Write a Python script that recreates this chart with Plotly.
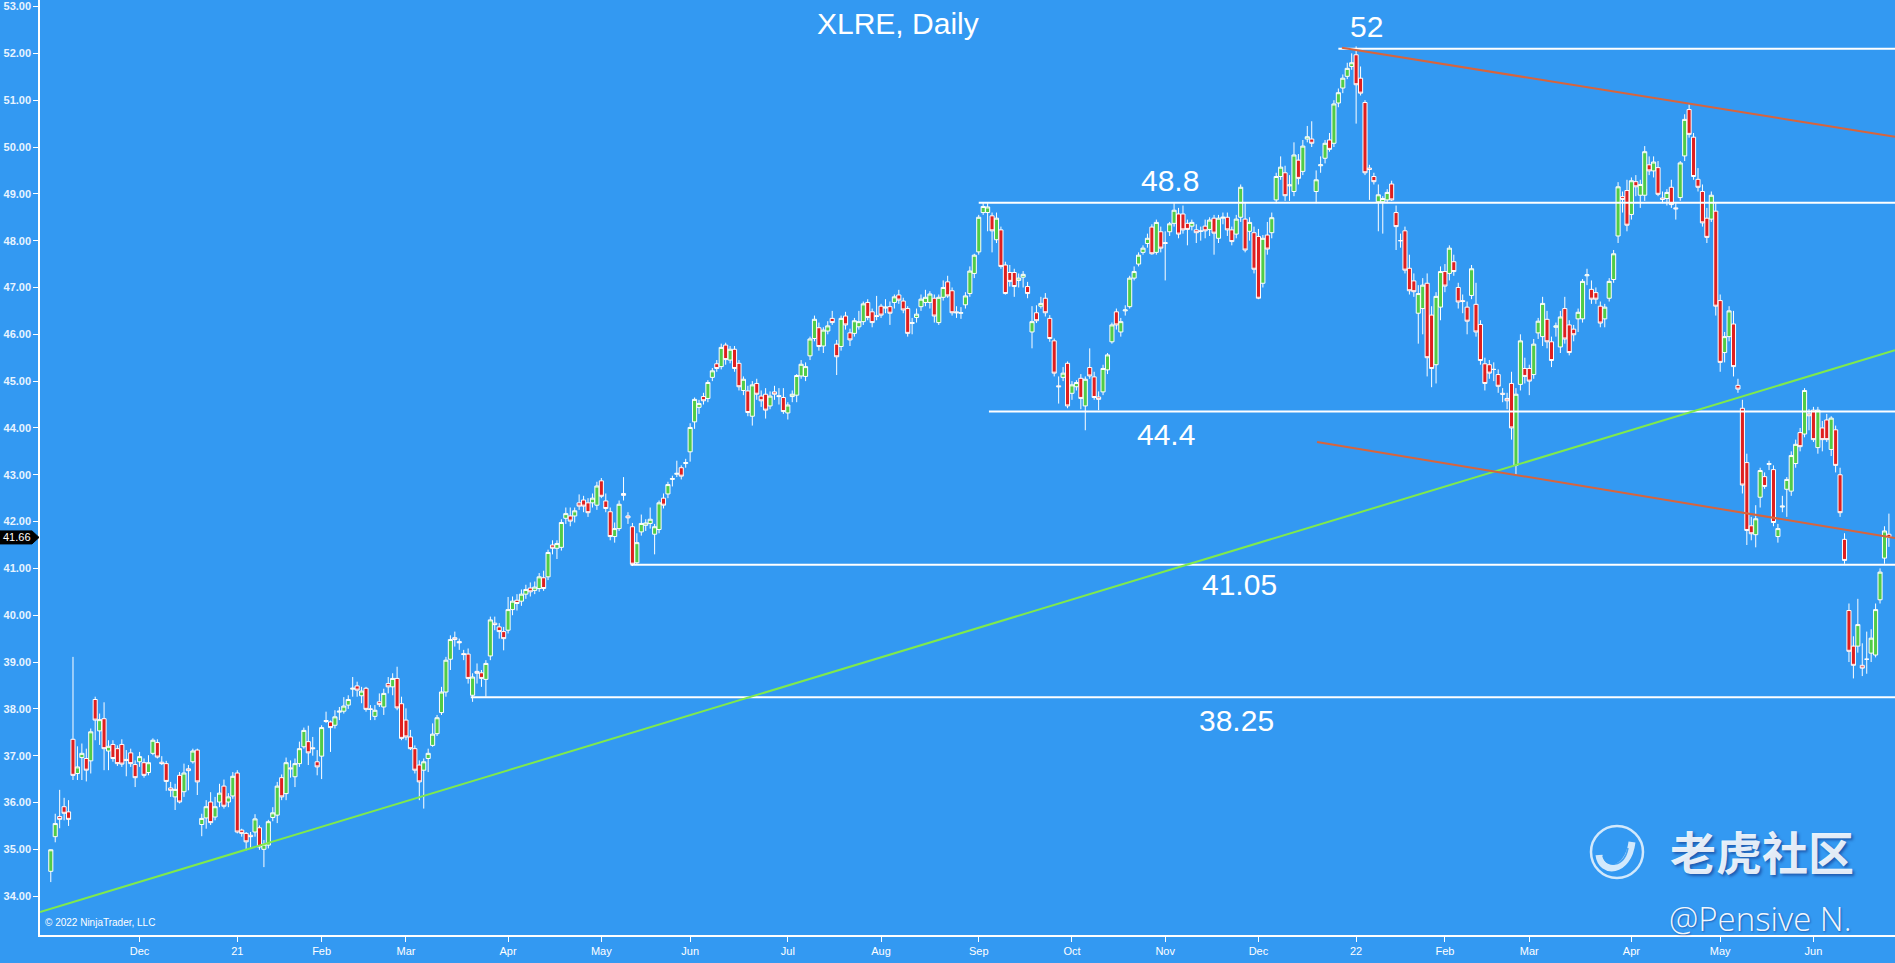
import pandas as pd
import plotly.graph_objects as go

# ---------------- data ----------------
TICKER_TITLE = "XLRE, Daily"
START, END = "2020-11-02", "2022-06-27"
HOLIDAYS = ["2020-11-26", "2020-12-25", "2021-01-01", "2021-01-18", "2021-02-15",
            "2021-04-02", "2021-05-31", "2021-07-05", "2021-09-06", "2021-11-25",
            "2021-12-24", "2022-01-17", "2022-02-21", "2022-04-15", "2022-05-30",
            "2022-06-20"]

opens = [
 34.53,35.27,35.70,35.91,35.80,37.35,36.62,36.96,36.94,36.89,
 38.20,37.53,37.79,37.10,37.24,37.15,37.24,36.92,37.06,36.81,
 36.87,36.85,36.64,37.05,37.28,36.86,36.83,36.31,36.12,36.58,
 36.23,36.72,36.87,37.12,35.53,35.67,36.01,35.69,36.01,36.35,
 36.01,36.14,36.63,35.41,35.34,35.30,35.37,35.46,35.00,35.09,
 35.68,35.73,36.53,36.19,36.74,36.55,36.83,37.19,37.30,37.17,
 36.87,36.99,37.73,37.72,37.65,37.93,37.95,38.08,38.42,38.49,
 38.28,38.44,38.00,37.84,38.15,38.04,38.54,38.47,38.65,38.11,
 37.76,37.40,37.15,36.80,36.69,36.94,37.22,37.47,37.92,38.36,
 39.06,39.52,39.44,39.18,39.17,38.29,38.80,38.77,38.63,39.13,
 39.83,39.75,39.65,39.68,40.12,40.32,40.30,40.45,40.58,40.53,
 40.57,40.80,40.82,41.50,41.43,41.45,42.07,42.12,42.12,42.40,
 42.46,42.40,42.40,42.35,42.87,42.44,42.21,41.68,41.85,42.60,
 42.12,41.89,41.12,41.78,41.92,41.96,41.73,41.83,42.50,42.59,
 42.90,43.01,43.15,43.24,43.49,44.13,44.44,44.67,44.63,45.08,
 45.37,45.31,45.77,45.45,45.68,45.38,44.80,44.79,44.25,44.95,
 44.68,44.72,44.47,44.77,44.69,44.65,44.32,44.67,44.70,45.11,
 45.10,45.54,45.91,46.14,45.75,46.07,46.34,45.79,45.74,46.39,
 46.03,46.02,46.16,46.27,46.68,46.48,46.40,46.60,46.56,46.59,
 46.68,46.84,46.71,46.55,46.23,46.36,46.59,46.68,46.68,46.77,
 46.25,46.79,47.12,46.93,46.48,46.45,46.63,46.87,47.30,47.76,
 48.60,48.60,48.53,48.02,48.23,47.48,47.32,47.32,47.15,47.22,
 47.02,46.05,46.46,46.60,46.77,46.34,45.86,44.90,45.08,45.38,
 44.74,44.88,45.06,44.47,45.29,45.09,44.66,44.77,45.24,45.84,
 46.48,46.05,46.50,46.59,47.20,47.50,47.75,47.94,48.29,47.75,
 48.19,47.96,48.19,48.37,48.57,48.57,48.37,48.31,48.23,48.21,
 48.31,48.24,48.48,48.05,48.48,48.50,48.23,48.14,48.50,48.46,
 48.20,48.17,48.09,47.09,48.12,48.17,48.87,49.37,49.45,49.17,
 49.05,49.72,49.48,50.17,50.17,49.05,49.60,49.76,50.15,50.08,
 50.94,51.26,51.51,51.72,51.97,51.47,50.95,49.55,49.37,48.83,
 48.83,48.87,49.21,48.60,48.00,48.21,47.41,47.14,46.45,46.55,
 47.09,46.41,45.35,46.58,47.34,47.30,47.55,47.00,46.72,46.58,
 46.83,46.64,46.21,45.37,45.35,45.25,45.14,44.74,44.63,44.95,
 43.20,44.93,45.27,45.27,45.14,46.03,45.95,46.32,45.84,46.15,
 45.73,46.55,46.20,46.11,46.33,46.33,47.25,46.96,46.89,46.60,
 46.33,46.77,47.17,48.10,48.94,49.07,48.56,49.26,48.97,48.97,
 49.62,49.49,49.56,48.91,48.90,49.14,48.70,48.92,49.81,50.80,
 50.21,49.31,49.05,48.48,48.46,48.63,46.72,45.61,45.95,46.22,
 44.91,44.42,43.26,41.91,41.72,42.52,42.96,43.22,43.11,41.68,
 42.31,42.69,42.65,43.24,43.90,43.87,44.30,44.38,43.58,44.00,
 44.17,43.54,43.96,43.00,41.62,40.10,39.34,39.34,38.93,39.06,
 39.19,39.15,40.33,41.22,41.73]

highs = [
 35.00,35.76,36.27,36.10,36.05,39.11,37.20,37.26,37.15,37.58,
 38.26,37.90,38.14,37.33,37.33,37.22,37.35,37.12,37.15,36.90,
 37.08,36.94,37.01,37.37,37.35,36.99,36.89,36.44,36.40,36.65,
 36.83,36.80,37.15,37.15,35.76,36.05,36.22,36.12,36.40,36.49,
 36.20,36.65,36.69,35.44,35.37,35.37,35.75,35.51,35.20,35.63,
 35.90,36.44,36.60,36.96,36.90,36.94,37.30,37.60,37.64,37.40,
 37.12,37.65,37.94,37.75,37.97,38.04,38.25,38.29,38.68,38.58,
 38.47,38.47,38.08,38.08,38.33,38.43,38.68,38.76,38.90,38.26,
 38.01,37.55,37.22,36.90,36.94,37.15,37.69,37.87,38.47,39.11,
 39.57,39.65,39.50,39.26,39.29,38.76,38.97,38.83,39.04,39.97,
 39.97,39.83,39.75,40.39,40.40,40.45,40.55,40.65,40.70,40.72,
 40.90,40.95,41.40,41.60,41.60,42.05,42.30,42.30,42.30,42.58,
 42.55,42.50,42.60,42.85,42.93,42.60,42.30,41.98,42.45,42.95,
 42.20,41.97,41.75,42.15,42.05,42.30,41.95,42.45,42.60,42.85,
 42.98,43.30,43.20,43.34,44.10,44.65,44.60,44.75,45.02,45.28,
 45.45,45.80,45.82,45.75,45.75,45.45,45.10,44.90,45.00,45.05,
 44.80,44.85,44.78,44.90,44.85,44.85,44.55,44.80,45.15,45.45,
 45.40,45.95,46.40,46.25,46.15,46.28,46.50,45.88,46.40,46.48,
 46.12,46.35,46.50,46.70,46.75,46.55,46.82,46.65,46.75,46.70,
 46.85,46.95,46.78,46.60,46.35,46.55,46.85,46.95,46.92,46.85,
 46.85,47.15,47.25,47.00,46.60,46.58,46.90,47.45,47.72,48.55,
 48.80,48.80,48.60,48.60,48.30,47.55,47.48,47.40,47.30,47.35,
 47.12,46.60,46.62,46.80,46.88,46.41,45.91,45.10,45.30,45.42,
 45.00,45.02,45.15,45.10,45.70,45.20,44.78,45.35,45.60,46.25,
 46.55,46.35,46.62,47.25,47.45,47.75,47.90,48.15,48.35,48.45,
 48.30,48.20,48.40,48.80,48.70,48.75,48.45,48.45,48.35,48.30,
 48.45,48.50,48.55,48.55,48.60,48.60,48.30,48.55,49.20,48.80,
 48.50,48.30,48.25,48.12,48.40,48.60,49.45,49.80,49.60,49.40,
 50.10,49.85,50.15,50.45,50.55,49.50,49.80,50.15,50.30,51.00,
 51.25,51.55,51.80,52.00,52.15,51.72,51.00,49.62,49.45,49.20,
 48.95,49.10,49.28,48.75,48.15,48.30,47.70,47.30,47.05,47.20,
 47.30,46.60,46.90,47.45,47.50,47.90,47.70,47.10,46.85,46.70,
 47.48,47.10,46.30,45.50,45.45,45.40,45.25,44.85,44.75,45.20,
 44.85,46.00,45.50,45.35,45.90,46.35,46.80,46.50,45.95,46.25,
 46.50,46.80,46.30,46.20,46.55,47.18,47.40,47.15,47.00,46.70,
 46.65,47.20,47.80,49.25,49.05,49.30,49.35,49.40,49.30,50.02,
 49.80,49.80,49.70,49.05,49.10,49.30,48.80,49.70,50.70,50.91,
 50.30,49.55,49.20,48.70,49.05,48.80,46.85,46.05,46.60,46.50,
 45.05,44.60,43.45,42.10,42.35,43.15,43.05,43.30,43.20,41.95,
 42.55,42.95,43.50,43.75,44.00,44.85,44.40,44.45,44.45,44.15,
 44.30,44.25,44.05,43.15,41.75,40.25,39.55,40.35,39.40,39.65,
 39.70,40.25,41.00,41.90,42.17]

lows = [
 34.30,35.15,35.45,35.62,35.50,36.48,36.48,36.48,36.45,36.62,
 37.33,37.23,36.69,36.69,36.87,36.78,36.76,36.56,36.76,36.33,
 36.76,36.53,36.58,37.01,36.94,36.80,36.25,36.12,35.84,35.98,
 36.12,36.26,36.83,36.16,35.28,35.44,35.52,35.62,35.90,35.87,
 35.90,36.08,35.34,35.27,34.98,35.01,35.27,34.99,34.62,35.02,
 35.60,35.56,36.05,36.05,36.53,36.33,36.76,37.15,36.80,37.00,
 36.58,36.50,37.70,37.08,37.58,37.76,37.90,38.00,38.26,38.26,
 38.12,37.94,37.76,37.76,38.04,37.87,38.33,38.29,37.97,37.33,
 37.33,37.12,36.62,36.05,35.87,36.65,37.19,37.42,37.87,38.26,
 38.83,39.33,39.26,39.04,38.54,38.15,38.54,38.47,38.26,39.04,
 39.68,39.50,39.25,39.61,40.00,40.10,40.20,40.35,40.40,40.45,
 40.50,40.52,40.75,41.30,41.20,41.38,41.95,41.90,41.98,42.25,
 42.20,42.10,42.30,42.25,42.50,42.20,41.60,41.55,41.80,42.45,
 41.95,41.05,41.08,41.70,41.80,41.85,41.30,41.75,42.28,42.50,
 42.75,42.95,42.90,43.15,43.28,43.98,44.30,44.50,44.55,45.00,
 45.20,45.25,45.35,45.38,45.20,44.80,44.70,44.25,44.05,44.60,
 44.45,44.20,44.40,44.60,44.50,44.30,44.18,44.55,44.55,45.05,
 45.00,45.45,45.85,45.65,45.60,46.00,46.20,45.13,45.65,46.10,
 45.75,45.95,46.10,46.20,46.30,46.15,46.30,46.35,46.45,46.20,
 46.55,46.65,46.45,45.95,46.00,46.25,46.50,46.60,46.55,46.25,
 46.20,46.72,46.78,46.40,46.35,46.33,46.55,46.80,47.20,47.70,
 48.55,48.20,47.75,47.95,47.40,46.85,47.02,46.80,47.00,47.00,
 46.77,45.70,46.24,46.55,46.38,45.84,45.10,44.52,45.00,44.42,
 44.60,44.80,44.40,43.95,45.05,44.60,44.38,44.70,45.15,45.80,
 46.10,45.95,46.40,46.55,47.15,47.45,47.70,47.85,47.70,47.70,
 47.75,47.15,48.10,48.30,48.05,48.15,47.90,48.22,47.95,48.00,
 48.05,48.10,47.70,47.95,48.35,48.10,47.90,48.05,48.40,47.75,
 48.00,47.30,46.75,47.00,47.70,48.05,48.80,49.30,48.85,48.85,
 48.95,49.20,49.40,50.10,50.00,48.80,49.45,49.65,49.90,50.00,
 50.85,51.15,51.45,51.65,50.50,51.10,49.40,48.87,49.20,48.20,
 48.15,48.80,48.85,47.80,47.85,47.30,46.85,46.80,45.80,46.00,
 45.10,44.87,44.95,46.30,46.90,47.15,47.25,46.55,46.45,46.00,
 46.75,45.95,45.35,44.80,45.05,45.00,44.75,44.55,44.40,43.75,
 43.00,44.80,44.95,44.70,45.05,45.90,45.75,45.70,45.30,45.95,
 45.60,45.80,45.55,45.85,46.05,46.25,47.05,46.65,46.65,46.15,
 46.15,46.70,47.10,47.95,48.60,48.20,48.45,48.95,48.70,48.85,
 49.40,49.35,48.95,48.80,48.75,48.70,48.45,48.85,49.70,50.20,
 49.30,49.05,48.30,47.95,48.40,46.40,45.20,45.40,45.85,45.10,
 44.75,42.60,41.50,41.60,41.45,42.30,42.70,43.10,41.90,41.55,
 42.20,42.10,42.55,43.15,43.50,43.80,43.95,43.70,43.45,43.50,
 43.70,43.40,43.05,42.10,41.10,39.00,38.65,39.20,38.70,38.75,
 39.00,39.10,40.25,41.10,41.46]

closes = [
 34.99,35.55,35.64,35.77,35.64,36.58,36.76,37.05,36.69,37.51,
 37.76,37.77,37.15,37.20,36.94,36.83,36.82,36.90,36.83,36.53,
 36.98,36.58,36.85,37.33,36.97,36.83,36.45,36.26,36.28,36.01,
 36.63,36.68,37.10,36.44,35.66,35.91,35.57,35.91,36.20,35.92,
 36.12,36.56,35.37,35.34,35.16,35.27,35.65,35.05,35.11,35.59,
 35.78,36.35,36.12,36.85,36.72,36.83,37.15,37.54,37.06,37.15,
 36.76,37.60,37.75,37.60,37.83,37.95,38.06,38.20,38.44,38.40,
 38.38,37.99,37.99,37.97,38.09,38.33,38.47,38.65,38.02,37.37,
 37.40,37.15,36.69,36.44,36.87,37.05,37.46,37.81,38.36,39.04,
 39.48,39.48,39.41,39.16,38.65,38.68,38.76,38.65,38.97,39.90,
 39.80,39.65,39.50,40.12,40.30,40.25,40.45,40.55,40.50,40.60,
 40.82,40.57,41.34,41.43,41.53,41.98,42.17,42.01,42.23,42.33,
 42.33,42.19,42.50,42.76,42.54,42.28,41.68,41.85,42.37,42.56,
 42.08,41.09,41.55,41.96,41.97,42.05,41.89,42.40,42.35,42.79,
 42.92,43.03,42.97,43.26,44.01,44.61,44.52,44.58,44.97,45.22,
 45.27,45.72,45.46,45.68,45.27,44.88,45.04,44.33,44.92,44.72,
 44.58,44.38,44.68,44.72,44.67,44.35,44.49,44.72,45.12,45.36,
 45.31,45.90,46.32,45.74,46.09,46.18,46.25,45.52,46.34,46.20,
 45.88,46.29,46.27,46.65,46.36,46.25,46.38,46.41,46.58,46.45,
 46.80,46.73,46.52,46.02,46.25,46.43,46.75,46.79,46.86,46.39,
 46.79,47.00,46.82,46.46,46.46,46.46,46.82,47.35,47.69,48.50,
 48.73,48.72,48.21,48.48,47.45,46.87,47.13,47.02,47.20,47.28,
 46.87,46.27,46.29,46.66,46.46,45.91,45.17,44.88,45.17,44.47,
 44.92,44.97,44.63,45.04,45.11,44.65,44.61,45.27,45.56,46.20,
 46.20,46.27,46.52,47.20,47.34,47.69,47.84,48.05,47.72,48.39,
 47.84,47.94,48.36,48.65,48.14,48.23,48.24,48.39,48.17,48.20,
 48.21,48.44,48.16,48.48,48.50,48.23,47.98,48.46,49.14,47.80,
 48.39,47.39,46.77,48.05,47.82,48.49,49.37,49.57,48.96,49.19,
 49.83,49.33,50.02,50.22,50.08,49.30,49.62,50.08,49.95,50.92,
 51.16,51.47,51.68,51.80,51.33,51.15,49.45,49.52,49.26,48.98,
 48.90,49.03,48.87,48.30,48.00,47.37,46.93,46.91,46.87,47.05,
 45.50,45.27,46.81,47.34,47.03,47.84,47.34,46.69,46.70,46.28,
 47.40,46.05,45.44,44.95,45.17,45.25,44.89,44.72,44.58,44.00,
 44.72,45.86,45.10,45.00,45.79,46.28,46.66,45.84,45.44,46.18,
 46.37,45.90,45.61,45.99,46.47,47.13,47.27,46.75,46.75,46.24,
 46.58,47.13,47.72,49.15,48.88,48.33,49.28,49.15,49.20,49.90,
 49.49,49.68,48.99,48.88,49.03,48.77,48.68,49.66,50.59,50.27,
 49.37,49.14,48.38,48.07,48.97,46.60,45.40,45.95,46.50,45.31,
 44.83,42.78,41.81,41.74,42.06,43.09,42.75,43.24,41.98,41.85,
 42.33,42.90,43.41,43.65,43.60,44.80,44.26,43.75,44.38,43.75,
 43.75,44.21,43.20,42.19,41.17,39.23,38.93,39.80,38.87,39.06,
 39.51,40.12,40.92,41.80,41.66]

# horizontal support / resistance levels
level_prices = [52.10, 48.81, 44.35, 41.08, 38.25]
level_labels = ["52", "48.8", "44.4", "41.05", "38.25"]

# trend lines: (start index, start price, end index, end price)
green_trend = (-2.43, 33.66, 415.37, 45.66)
red_upper = (290.8, 52.12, 415.37, 50.22)
red_lower = (285.2, 43.70, 415.37, 41.65)

last_price = closes[-1]

# ---------------- calendar / ticks ----------------
days = pd.bdate_range(START, END)
days = days[~days.isin(pd.to_datetime(HOLIDAYS))]
n = min(len(days), len(closes))
xs = list(range(n))
periods = days.to_period("M")
tickvals, ticktext = [], []
for i in range(1, n):
    if periods[i] != periods[i - 1]:
        tickvals.append(i)
        d = days[i]
        ticktext.append(d.strftime("%y") if d.month == 1 else d.strftime("%b"))

highs = [max(h, o, c) for h, o, c in zip(highs, opens, closes)]
lows = [min(l, o, c) for l, o, c in zip(lows, opens, closes)]

# ---------------- style ----------------
BG = "#3399F2"
GREEN = "#50CC48"
RED = "#DE1F1F"
FONT = "Liberation Sans, Arial, sans-serif"
NARROW = "Liberation Sans Narrow, Arial Narrow, Liberation Sans, Arial, sans-serif"
X_RANGE = [-2.43, 415.37]
Y_RANGE = [33.17, 53.14]

fig = go.Figure()
fig.add_trace(go.Candlestick(
    x=xs, open=opens[:n], high=highs[:n], low=lows[:n], close=closes[:n],
    increasing=dict(line=dict(color="white", width=1), fillcolor=GREEN),
    decreasing=dict(line=dict(color="white", width=1), fillcolor=RED),
    whiskerwidth=0, hoverinfo="skip", showlegend=False,
))

shapes = []
level_starts = [290.0, 209.0, 211.3, 130.6, 94.6]
for p, s in zip(level_prices, level_starts):
    shapes.append(dict(type="line", xref="x", yref="y", x0=s, x1=X_RANGE[1] + 2,
                       y0=p, y1=p, line=dict(color="white", width=2), layer="above"))
for (x0, y0, x1, y1), col in [(green_trend, "#7FEA4C"), (red_upper, "#D8643C"),
                               (red_lower, "#D8643C")]:
    shapes.append(dict(type="line", xref="x", yref="y", x0=x0, y0=y0, x1=x1, y1=y1,
                       line=dict(color=col, width=2), layer="above"))

# price marker on the left axis
PLOT_L, PLOT_W, PLOT_H = 40, 1855, 935
def px_x(p):
    return (p - PLOT_L) / PLOT_W
def px_y(p):
    return (PLOT_H - p) / PLOT_H
py = 6.7 + (53 - last_price) * 46.8
ym = px_y(py)
hh = 6.5 / PLOT_H
shapes.append(dict(type="path", xref="paper", yref="paper",
                   path=f"M {px_x(0)},{ym+hh} L {px_x(32)},{ym+hh} L {px_x(39)},{ym} "
                        f"L {px_x(32)},{ym-hh} L {px_x(0)},{ym-hh} Z",
                   fillcolor="black", line=dict(color="black", width=1), layer="above"))
# watermark logo: circle with a curled tail
WM = "rgba(255,255,255,0.78)"
shapes.append(dict(type="circle", xref="paper", yref="paper",
                   x0=px_x(1591), x1=px_x(1643), y0=px_y(878), y1=px_y(826),
                   line=dict(color=WM, width=2.5), layer="above"))
shapes.append(dict(type="path", xref="paper", yref="paper",
                   path=f"M {px_x(1599)},{px_y(855)} C {px_x(1601)},{px_y(874)} "
                        f"{px_x(1628)},{px_y(874)} {px_x(1632)},{px_y(842)}",
                   line=dict(color=WM, width=7), layer="above"))
shapes.append(dict(type="path", xref="paper", yref="paper",
                   path=f"M {px_x(1603)},{px_y(856)} C {px_x(1606)},{px_y(868)} "
                        f"{px_x(1624)},{px_y(868)} {px_x(1628)},{px_y(848)}",
                   line=dict(color="rgba(51,153,242,0.9)", width=1.5), layer="above"))

annotations = [
    dict(text=TICKER_TITLE, xref="paper", yref="paper", x=px_x(898), y=px_y(24),
         xanchor="center", yanchor="middle",
         showarrow=False, font=dict(family=FONT, size=30, color="white")),
    dict(text=f"{last_price:.2f}", xref="paper", yref="paper", x=px_x(17), y=ym,
         showarrow=False, font=dict(family=FONT, size=11, color="white"),
         xanchor="center", yanchor="middle"),
    dict(text="© 2022 NinjaTrader, LLC", xref="paper", yref="paper", x=px_x(43),
         y=px_y(922), xanchor="left", yanchor="middle", showarrow=False,
         font=dict(family=NARROW, size=10, color="white")),
    dict(text="老虎社区", xref="paper", yref="paper", x=px_x(1762), y=px_y(850),
         showarrow=False, xanchor="center", yanchor="middle",
         font=dict(family="Noto Sans CJK SC", size=46, color="rgba(255,255,255,0.9)",
                   weight="bold", shadow="2px 2px 3px rgba(0,0,80,0.45)")),
    dict(text="@Pensive N.", xref="paper", yref="paper", x=px_x(1760), y=px_y(918),
         showarrow=False, xanchor="center", yanchor="middle",
         font=dict(family="Open Sans", size=33, color="rgba(255,255,255,0.95)", weight=300,
                   shadow="1px 1px 2px rgba(0,0,80,0.4)")),
]
label_pos = [(296.4, 52.57), (252.0, 49.28), (251.2, 43.85), (267.8, 40.66), (267.0, 37.75)]
for txt, (lx, ly) in zip(level_labels, label_pos):
    annotations.append(dict(text=txt, xref="x", yref="y", x=lx, y=ly, showarrow=False,
                            xanchor="center", yanchor="middle",
                            font=dict(family=FONT, size=30, color="white")))

fig.update_layout(
    width=1895, height=963,
    margin=dict(l=PLOT_L, r=0, t=0, b=963 - PLOT_H),
    paper_bgcolor=BG, plot_bgcolor=BG,
    boxgap=0.08, boxgroupgap=0.0,
    shapes=shapes, annotations=annotations,
    showlegend=False,
    xaxis=dict(range=X_RANGE, tickvals=tickvals, ticktext=ticktext, showgrid=False,
               zeroline=False, showline=True, linecolor="white", linewidth=1.5,
               ticks="outside", ticklen=5, tickcolor="white", tickwidth=1,
               tickfont=dict(family=NARROW, size=11, color="white"),
               rangeslider=dict(visible=False), fixedrange=True),
    yaxis=dict(range=Y_RANGE, dtick=1, tick0=34, tickformat=".2f", showgrid=False,
               zeroline=False, showline=True, linecolor="white", linewidth=1.5,
               ticks="outside", ticklen=5, tickcolor="white", tickwidth=1,
               tickfont=dict(family=FONT, size=11, color="#E8F4FF", weight="bold"),
               fixedrange=True),
)

fig.write_html("out.html", config={"displayModeBar": False},
               post_script="document.body.style.margin='0';document.body.style.overflow='hidden';")
